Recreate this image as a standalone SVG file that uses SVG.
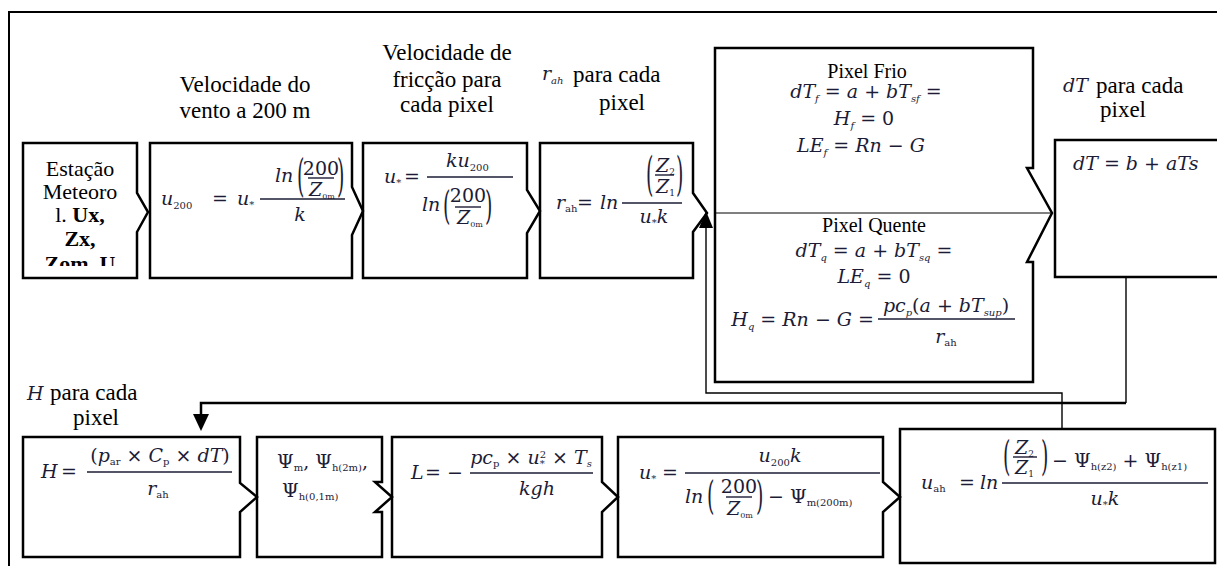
<svg xmlns="http://www.w3.org/2000/svg" width="1217" height="566" viewBox="0 0 1217 566">
<style>
.bx{fill:none;stroke:#000;stroke-width:2.5;stroke-linejoin:miter}
.lb{font-family:"Liberation Serif","Times New Roman",serif;font-size:23px;fill:#000}
.ls{font-family:"Liberation Serif","Times New Roman",serif;font-size:20px;fill:#000}
.es{font-family:"Liberation Serif","Times New Roman",serif;font-size:22px;fill:#000}
.mi{font-family:"DejaVu Serif",serif;font-style:italic;font-size:19px;fill:#1c1c36}
.mr{font-family:"DejaVu Serif",serif;font-size:19px;fill:#1c1c36}
.fb{stroke:#1c1c36;stroke-width:1.4}
.op{font-style:normal}
.sub{font-size:10px}
.cn{fill:none;stroke:#000}
</style>
<defs>
<clipPath id="cE"><rect x="23" y="143" width="114" height="123"/></clipPath>
<clipPath id="c4"><rect x="540" y="151" width="160" height="127"/></clipPath>
<clipPath id="cP"><rect x="257" y="437" width="124" height="120"/></clipPath>
<clipPath id="cU"><rect x="900" y="437" width="315" height="126"/></clipPath>
</defs>
<rect width="1217" height="566" fill="#fff"/>
<path d="M9,566 V12 H1217" fill="none" stroke="#000" stroke-width="2"/>

<g id="labels">
<text class="lb" x="245" y="92" text-anchor="middle">Velocidade do</text>
<text class="lb" x="245" y="118" text-anchor="middle">vento a 200 m</text>
<text class="lb" x="447" y="60" text-anchor="middle">Velocidade de</text>
<text class="lb" x="447" y="87" text-anchor="middle">fricção para</text>
<text class="lb" x="447" y="112" text-anchor="middle">cada pixel</text>
<text class="mi" x="542" y="80" font-size="21">r<tspan class="sub" dy="4" font-size="12">ah</tspan></text>
<text class="lb" x="573" y="82">para cada</text>
<text class="lb" x="622" y="110" text-anchor="middle">pixel</text>
<text class="mi" x="1063" y="92" font-size="20">dT</text>
<text class="lb" x="1096" y="93">para cada</text>
<text class="lb" x="1123" y="117" text-anchor="middle">pixel</text>
<text class="mi" x="27" y="400" font-size="20">H</text>
<text class="lb" x="50" y="400">para cada</text>
<text class="lb" x="96" y="425" text-anchor="middle">pixel</text>
</g>

<g id="connectors">
<path class="cn" stroke-width="1.4" d="M1062,429 V393 H706 V226"/>
<path d="M706,211 L699,228 L713,228 Z" fill="#000"/>
<path class="cn" stroke-width="1.4" d="M1126,277 V403"/>
<path class="cn" stroke-width="2.5" d="M1126,403 H201 V416"/>
<path d="M201,431 L193,414 L209,414 Z" fill="#000"/>
</g>

<g id="estacao">
<path class="bx" d="M23,143 H137 V193 L148,212 L137,232 V278 H23 Z"/>
<g clip-path="url(#cE)">
<text class="es" x="80" y="176" text-anchor="middle">Estação</text>
<text class="es" x="80" y="199" text-anchor="middle">Meteoro</text>
<text class="es" x="80" y="222" text-anchor="middle">l. <tspan font-weight="bold">Ux,</tspan></text>
<text class="es" x="80" y="246" text-anchor="middle" font-weight="bold">Zx,</text>
<text class="es" x="80" y="271" text-anchor="middle" font-weight="bold">Zom, U</text>
</g>
</g>

<g id="u200">
<path class="bx" d="M150,143 H352 V187 L363,211 L352,235 V278 H150 Z"/>
<text class="mi" x="161" y="205">u<tspan class="op sub" dy="4">200</tspan></text>
<text class="mr" x="212" y="205">=</text>
<text class="mi" x="237" y="205">u<tspan class="op sub" dy="3">*</tspan></text>
<line class="fb" x1="260" y1="199" x2="345" y2="199"/>
<text class="mi" x="275" y="182">ln</text>
<text class="mr" transform="translate(297,191) scale(1,2.4)" font-size="18">(</text>
<text class="mr" x="321" y="175" text-anchor="middle" font-size="13">200</text>
<line class="fb" x1="308" y1="178" x2="334" y2="178"/>
<text class="mi" x="309" y="196" font-size="16">Z<tspan class="op" font-size="8" dy="3">0m</tspan></text>
<text class="mr" transform="translate(337,191) scale(1,2.4)" font-size="18">)</text>
<text class="mi" x="300" y="221" text-anchor="middle">k</text>
</g>

<g id="ustar">
<path class="bx" d="M363,143 H527 V190 L540,211 L527,233 V278 H363 Z"/>
<text class="mi" x="384" y="183">u<tspan class="op sub" dy="3">*</tspan></text>
<text class="mr" x="404" y="183">=</text>
<line class="fb" x1="427" y1="177" x2="513" y2="177"/>
<text class="mi" x="446" y="167">ku<tspan class="op sub" dy="4">200</tspan></text>
<text class="mi" x="422" y="211">ln</text>
<text class="mr" transform="translate(443,219) scale(1,2.1)" font-size="18">(</text>
<text class="mr" x="468" y="202" text-anchor="middle" font-size="13">200</text>
<line class="fb" x1="455" y1="207" x2="481" y2="207"/>
<text class="mi" x="457" y="224" font-size="16">Z<tspan class="op" font-size="8" dy="3">0m</tspan></text>
<text class="mr" transform="translate(485,219) scale(1,2.1)" font-size="18">)</text>
</g>

<g id="rah">
<path class="bx" d="M540,143 H693 V193 L707,213 L693,232 V278 H540 Z"/>
<text class="mi" x="556" y="209">r<tspan class="op sub" dy="3">ah</tspan></text>
<text class="mr" x="577" y="209">=</text>
<text class="mi" x="600" y="209">ln</text>
<line class="fb" x1="622" y1="203" x2="682" y2="203"/>
<g clip-path="url(#c4)">
<text class="mr" transform="translate(646,190) scale(1,2.5)" font-size="18">(</text>
<text class="mi" x="656" y="172" font-size="16">Z<tspan class="op" font-size="9" dy="3">2</tspan></text>
<line class="fb" x1="655" y1="175" x2="674" y2="175"/>
<text class="mi" x="656" y="193" font-size="16">Z<tspan class="op" font-size="9" dy="3">1</tspan></text>
<text class="mr" transform="translate(676,190) scale(1,2.5)" font-size="18">)</text>
</g>
<text class="mi" x="654" y="223" text-anchor="middle">u<tspan class="op sub" dy="3">*</tspan><tspan dy="-3">k</tspan></text>
</g>

<g id="pixel">
<path class="bx" d="M715,48 H1033 V168 H1027 L1052,213 L1027,262 H1033 V382 H715 Z"/>
<line x1="715" y1="213" x2="1052" y2="213" stroke="#000" stroke-width="1"/>
<text class="ls" x="867" y="78" text-anchor="middle">Pixel Frio</text>
<text class="mi" x="866" y="98" text-anchor="middle">dT<tspan class="sub" dy="4">f</tspan><tspan class="op" dy="-4"> = </tspan>a<tspan class="op"> + </tspan>bT<tspan class="sub" dy="4">sf</tspan><tspan class="op" dy="-4"> =</tspan></text>
<text class="mi" x="864" y="125" text-anchor="middle">H<tspan class="sub" dy="4">f</tspan><tspan class="op" dy="-4">  = 0</tspan></text>
<text class="mi" x="861" y="152" text-anchor="middle">LE<tspan class="sub" dy="4">f</tspan><tspan class="op" dy="-4"> = </tspan>Rn<tspan class="op"> − </tspan>G</text>
<text class="ls" x="874" y="232" text-anchor="middle">Pixel Quente</text>
<text class="mi" x="874" y="257" text-anchor="middle">dT<tspan class="sub" dy="4">q</tspan><tspan class="op" dy="-4"> = </tspan>a<tspan class="op"> + </tspan>bT<tspan class="sub" dy="4">sq</tspan><tspan class="op" dy="-4"> =</tspan></text>
<text class="mi" x="874" y="283" text-anchor="middle">LE<tspan class="sub" dy="4">q</tspan><tspan class="op" dy="-4"> = 0</tspan></text>
<text class="mi" x="874" y="326" text-anchor="end">H<tspan class="sub" dy="4">q</tspan><tspan class="op" dy="-4"> = </tspan>Rn<tspan class="op"> − </tspan>G<tspan class="op"> =</tspan></text>
<line class="fb" x1="878" y1="319" x2="1015" y2="319"/>
<text class="mi" x="946" y="312" text-anchor="middle">pc<tspan class="sub" dy="4">p</tspan><tspan class="op" dy="-4">(</tspan>a<tspan class="op"> + </tspan>bT<tspan class="sub" dy="4">sup</tspan><tspan class="op" dy="-4">)</tspan></text>
<text class="mi" x="946" y="343" text-anchor="middle">r<tspan class="sub op" dy="3">ah</tspan></text>
</g>

<g id="dT">
<path class="bx" d="M1222,140 H1055 V277 H1222"/>
<text class="mi" x="1073" y="170">dT<tspan class="op"> = </tspan>b<tspan class="op"> + </tspan>aTs</text>
</g>

<g id="H">
<path class="bx" d="M23,437 H240 V483 L257,497 L240,512 V557 H23 Z"/>
<text class="mi" x="41" y="478">H</text>
<text class="mr" x="61" y="478">=</text>
<line class="fb" x1="87" y1="472" x2="232" y2="472"/>
<text class="mi" x="160" y="462" text-anchor="middle"><tspan class="op">(</tspan>p<tspan class="sub op" dy="3">ar</tspan><tspan class="op" dy="-3"> × </tspan>C<tspan class="sub op" dy="3">p</tspan><tspan class="op" dy="-3"> × </tspan>dT<tspan class="op">)</tspan></text>
<text class="mi" x="158" y="495" text-anchor="middle">r<tspan class="sub op" dy="3">ah</tspan></text>
</g>

<g id="psi">
<path class="bx" d="M257,437 H382 V482 H375 L392,497 L375,512 H382 V557 H257 Z"/>
<g clip-path="url(#cP)">
<text class="mr" x="277" y="468" font-size="16">Ψ<tspan class="sub" dy="3">m</tspan><tspan dy="-3">, Ψ</tspan><tspan class="sub" dy="3">h(2m)</tspan><tspan dy="-3">,</tspan></text>
<text class="mr" x="282" y="497" font-size="16">Ψ<tspan class="sub" dy="3">h(0,1m)</tspan></text>
</g>
</g>

<g id="L">
<path class="bx" d="M392,437 H602 V482 L618,497 L602,512 V557 H392 Z"/>
<text class="mi" x="411" y="479">L</text>
<text class="mr" x="425" y="479">= −</text>
<line class="fb" x1="470" y1="473" x2="593" y2="473"/>
<text class="mi" x="531" y="464" text-anchor="middle">pc<tspan class="sub op" dy="3">p</tspan><tspan class="op" dy="-3"> × </tspan>u<tspan class="sub op" dy="3">*</tspan><tspan class="sub op" dy="-9" dx="-5">2</tspan><tspan class="op" dy="6"> × </tspan>T<tspan class="sub" dy="3">s</tspan></text>
<text class="mi" x="537" y="495" text-anchor="middle">kgh</text>
</g>

<g id="ustar2">
<path class="bx" d="M618,437 H883 V482 L900,497 L883,512 V557 H618 Z"/>
<text class="mi" x="639" y="479">u<tspan class="op sub" dy="3">*</tspan></text>
<text class="mr" x="662" y="479">=</text>
<line class="fb" x1="685" y1="473" x2="880" y2="473"/>
<text class="mi" x="780" y="462" text-anchor="middle">u<tspan class="op sub" dy="4">200</tspan><tspan dy="-4">k</tspan></text>
<text class="mi" x="685" y="503">ln</text>
<text class="mr" transform="translate(707,509) scale(1,2.1)" font-size="18">(</text>
<text class="mr" x="739" y="493" text-anchor="middle" font-size="13">200</text>
<line class="fb" x1="726" y1="497" x2="752" y2="497"/>
<text class="mi" x="727" y="515" font-size="16">Z<tspan class="op" font-size="8" dy="3">0m</tspan></text>
<text class="mr" transform="translate(756,509) scale(1,2.1)" font-size="18">)</text>
<text class="mr" x="768" y="503">− Ψ<tspan class="sub" dy="3">m(200m)</tspan></text>
</g>

<g id="uah">
<rect class="bx" x="900" y="429" width="315" height="134"/>
<text class="mi" x="921" y="489">u<tspan class="op sub" dy="3">ah</tspan></text>
<text class="mr" x="959" y="489">=</text>
<text class="mi" x="980" y="489">ln</text>
<line class="fb" x1="1002" y1="483" x2="1208" y2="483"/>
<g clip-path="url(#cU)">
<text class="mr" transform="translate(1003,470) scale(1,2.2)" font-size="18">(</text>
<text class="mi" x="1015" y="454" font-size="16">Z<tspan class="op" font-size="9" dy="3">2</tspan></text>
<line class="fb" x1="1013" y1="457" x2="1037" y2="457"/>
<text class="mi" x="1015" y="474" font-size="16">Z<tspan class="op" font-size="9" dy="3">1</tspan></text>
<text class="mr" transform="translate(1041,470) scale(1,2.2)" font-size="18">)</text>
</g>
<text class="mr" x="1052" y="467">− Ψ<tspan class="sub" dy="3">h(z2)</tspan><tspan dy="-3"> + Ψ</tspan><tspan class="sub" dy="3">h(z1)</tspan></text>
<text class="mi" x="1105" y="505" text-anchor="middle">u<tspan class="op sub" dy="3">*</tspan><tspan dy="-3">k</tspan></text>
</g>
</svg>
